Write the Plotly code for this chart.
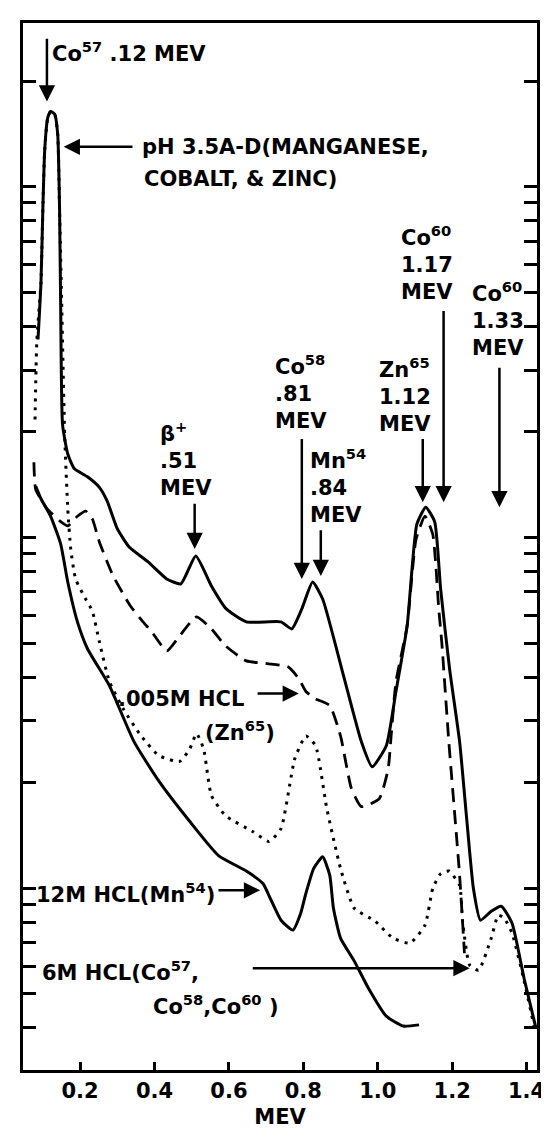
import math
import plotly.graph_objects as go

# ---- data (MEV, relative counts) ----
ph_mev = [0.087, 0.095, 0.100, 0.105, 0.113, 0.121, 0.132, 0.140, 0.145, 0.148, 0.153, 0.167, 0.185, 0.220,
          0.252, 0.273, 0.300, 0.332, 0.383, 0.433, 0.471, 0.511, 0.553, 0.593, 0.647, 0.740, 0.769, 0.796,
          0.825, 0.852, 0.908, 0.956, 0.985, 1.023, 1.049, 1.079, 1.105, 1.129, 1.153, 1.169, 1.193, 1.220,
          1.239, 1.257, 1.276, 1.305, 1.332, 1.361, 1.393, 1.425]
ph_counts = [36.7, 53.3, 86.0, 127, 157, 164, 161, 141, 86.0, 44.7, 21.0, 17.3, 15.7, 14.9,
             13.9, 12.7, 10.6, 9.40, 8.52, 7.62, 7.38, 8.86, 7.28, 6.26, 5.75, 5.75, 5.49, 6.26,
             7.47, 6.68, 4.04, 2.62, 2.22, 2.55, 3.64, 5.60, 10.9, 12.2, 11.1, 7.14, 4.23, 2.62,
             1.58, 1.00, 0.811, 0.860, 0.889, 0.795, 0.555, 0.400]

hcl005_mev = [0.076, 0.081, 0.111, 0.148, 0.167, 0.193, 0.215, 0.233, 0.252, 0.289, 0.335, 0.367, 0.393,
              0.433, 0.468, 0.513, 0.553, 0.591, 0.647, 0.703, 0.759, 0.788, 0.807, 0.833, 0.871, 0.900,
              0.929, 0.956, 1.004, 1.028, 1.036, 1.049, 1.079, 1.103, 1.127, 1.148, 1.164, 1.172, 1.191,
              1.220, 1.233]
hcl005_counts = [16.4, 13.7, 12.1, 11.1, 10.8, 11.5, 11.9, 11.3, 9.71, 7.77, 6.39, 5.79, 5.38,
                 4.75, 5.25, 5.94, 5.49, 4.91, 4.45, 4.37, 4.28, 3.96, 3.64, 3.47, 3.32, 2.72,
                 1.93, 1.71, 1.80, 2.19, 2.72, 3.88, 5.60, 9.90, 11.5, 10.2, 6.26, 5.04, 2.62,
                 1.09, 0.653]

hcl6_mev = [0.079, 0.084, 0.095, 0.100, 0.105, 0.113, 0.121, 0.132, 0.140, 0.145, 0.151, 0.159, 0.167,
            0.175, 0.188, 0.215, 0.233, 0.252, 0.279, 0.316, 0.364, 0.412, 0.468, 0.495, 0.513, 0.532,
            0.553, 0.591, 0.665, 0.708, 0.740, 0.777, 0.807, 0.833, 0.863, 0.900, 0.937, 0.993, 1.041,
            1.087, 1.127, 1.148, 1.169, 1.191, 1.220, 1.228, 1.247, 1.271, 1.305, 1.324, 1.340, 1.361,
            1.393, 1.420]
hcl6_counts = [21.7, 36.7, 53.3, 86.0, 127, 157, 164, 161, 141, 86.0, 44.7, 19.1, 12.1,
               9.27, 7.62, 6.68, 6.18, 5.04, 3.88, 3.25, 2.72, 2.39, 2.30, 2.50, 2.76, 2.50,
               1.84, 1.61, 1.45, 1.36, 1.48, 2.34, 2.72, 2.55, 1.69, 1.14, 0.877, 0.806, 0.721,
               0.698, 0.785, 1.00, 1.10, 1.12, 1.02, 0.806, 0.604, 0.584, 0.721, 0.838, 0.822, 0.745,
               0.547, 0.405]

hcl12_mev = [0.081, 0.095, 0.121, 0.148, 0.167, 0.193, 0.220, 0.279, 0.345, 0.412, 0.495, 0.572, 0.647,
             0.692, 0.711, 0.740, 0.772, 0.793, 0.807, 0.828, 0.852, 0.871, 0.881, 0.900, 0.937, 0.975,
             1.023, 1.068, 1.111]
hcl12_counts = [14.0, 12.9, 11.5, 9.58, 7.47, 5.75, 4.82, 3.78, 2.62, 2.02, 1.55, 1.24, 1.12,
                1.03, 0.937, 0.811, 0.760, 0.849, 0.968, 1.14, 1.23, 1.09, 0.877, 0.721, 0.620, 0.519,
                0.432, 0.405, 0.408]

x_ticks = [0.2, 0.4, 0.6, 0.8, 1.0, 1.2, 1.4]
x_tick_labels = ["0.2", "0.4", "0.6", "0.8", "1.0", "1.2", "1.4"]
y_ticks = [0.4, 0.5, 0.6, 0.7, 0.8, 0.9, 1, 2, 3, 4, 5, 6, 7, 8, 9,
           10, 20, 30, 40, 50, 60, 70, 80, 90, 100, 200]

# text labels: (text, MEV, counts)
labels = [
    ("Co<sup>57</sup> .12 MEV", 0.119, 242),
    ("pH 3.5A-D(MANGANESE,", 0.362, 130),
    ("COBALT, & ZINC)", 0.367, 105),
    ("Co<sup>60</sup><br>1.17<br>MEV", 1.058, 60.5),
    ("Co<sup>60</sup><br>1.33<br>MEV", 1.247, 42.0),
    ("Zn<sup>65</sup><br>1.12<br>MEV", 0.997, 25.5),
    ("Co<sup>58</sup><br>.81<br>MEV", 0.719, 26.0),
    ("Mn<sup>54</sup><br>.84<br>MEV", 0.813, 14.0),
    ("β<sup>+</sup><br>.51<br>MEV", 0.410, 16.8),
    (".005M HCL", 0.296, 3.47),
    ("(Zn<sup>65</sup>)", 0.530, 2.80),
    ("12M HCL(Mn<sup>54</sup>)", 0.075, 0.968),
    ("6M HCL(Co<sup>57</sup>,", 0.093, 0.580),
    ("Co<sup>58</sup>,Co<sup>60</sup> )", 0.392, 0.465),
]

# arrows: (tail MEV, tail counts, head MEV, head counts)
arrows = [
    (0.111, 267, 0.111, 175),
    (0.345, 130, 0.156, 130),
    (1.177, 44.7, 1.177, 12.6),
    (1.327, 30.8, 1.327, 12.2),
    (1.121, 19.3, 1.121, 12.6),
    (0.796, 19.3, 0.796, 7.62),
    (0.847, 10.6, 0.847, 7.77),
    (0.508, 12.6, 0.508, 9.27),
    (0.673, 3.59, 0.788, 3.59),
    (0.568, 0.987, 0.684, 0.987),
    (0.660, 0.592, 1.247, 0.592),
]

FONT = "DejaVu Sans"
TXT = dict(family=FONT, size=21, color="black", weight="bold")

fig = go.Figure()
fig.add_trace(go.Scatter(x=ph_mev, y=ph_counts, mode="lines", name="pH 3.5 A-D",
                         line=dict(color="black", width=3, shape="spline", smoothing=0.5)))
fig.add_trace(go.Scatter(x=hcl005_mev, y=hcl005_counts, mode="lines", name=".005M HCL",
                         line=dict(color="black", width=2.8, dash="14px,8px", shape="spline", smoothing=0.5)))
fig.add_trace(go.Scatter(x=hcl6_mev, y=hcl6_counts, mode="lines", name="6M HCL",
                         line=dict(color="black", width=3, dash="3px,6px", shape="spline", smoothing=0.5)))
fig.add_trace(go.Scatter(x=hcl12_mev, y=hcl12_counts, mode="lines", name="12M HCL",
                         line=dict(color="black", width=3, shape="spline", smoothing=0.5)))

annotations = []
for text, mx, cv in labels:
    annotations.append(dict(x=mx, y=math.log10(cv), xref="x", yref="y", text=text,
                            showarrow=False, xanchor="left", yanchor="middle", align="left",
                            font=TXT))
for tx, ty, hx, hy in arrows:
    annotations.append(dict(x=hx, y=math.log10(hy), ax=tx, ay=math.log10(ty),
                            xref="x", yref="y", axref="x", ayref="y", text="",
                            showarrow=True, arrowhead=2, arrowsize=1.3, arrowwidth=2.5,
                            arrowcolor="black", standoff=0, startstandoff=0))

fig.update_layout(
    width=549, height=1130,
    margin=dict(l=15, r=16, t=13, b=68),
    paper_bgcolor="white", plot_bgcolor="white",
    showlegend=False,
    font=dict(family=FONT, color="black"),
    annotations=annotations,
)
fig.update_xaxes(
    range=[0.0467, 1.428], tickvals=x_ticks, ticktext=x_tick_labels,
    ticks="inside", ticklen=8, tickwidth=2.5, tickcolor="black",
    showline=True, linewidth=3, linecolor="black", mirror=True,
    showgrid=False, zeroline=False,
    tickfont=TXT,
    title=dict(text="MEV", font=TXT, standoff=8),
)
fig.update_yaxes(
    type="log", range=[-0.518, 2.467], tickvals=y_ticks, showticklabels=False,
    ticks="inside", ticklen=13, tickwidth=2.5, tickcolor="black",
    showline=True, linewidth=3, linecolor="black", mirror="ticks",
    showgrid=False, zeroline=False,
)

fig.write_html("out.html")
